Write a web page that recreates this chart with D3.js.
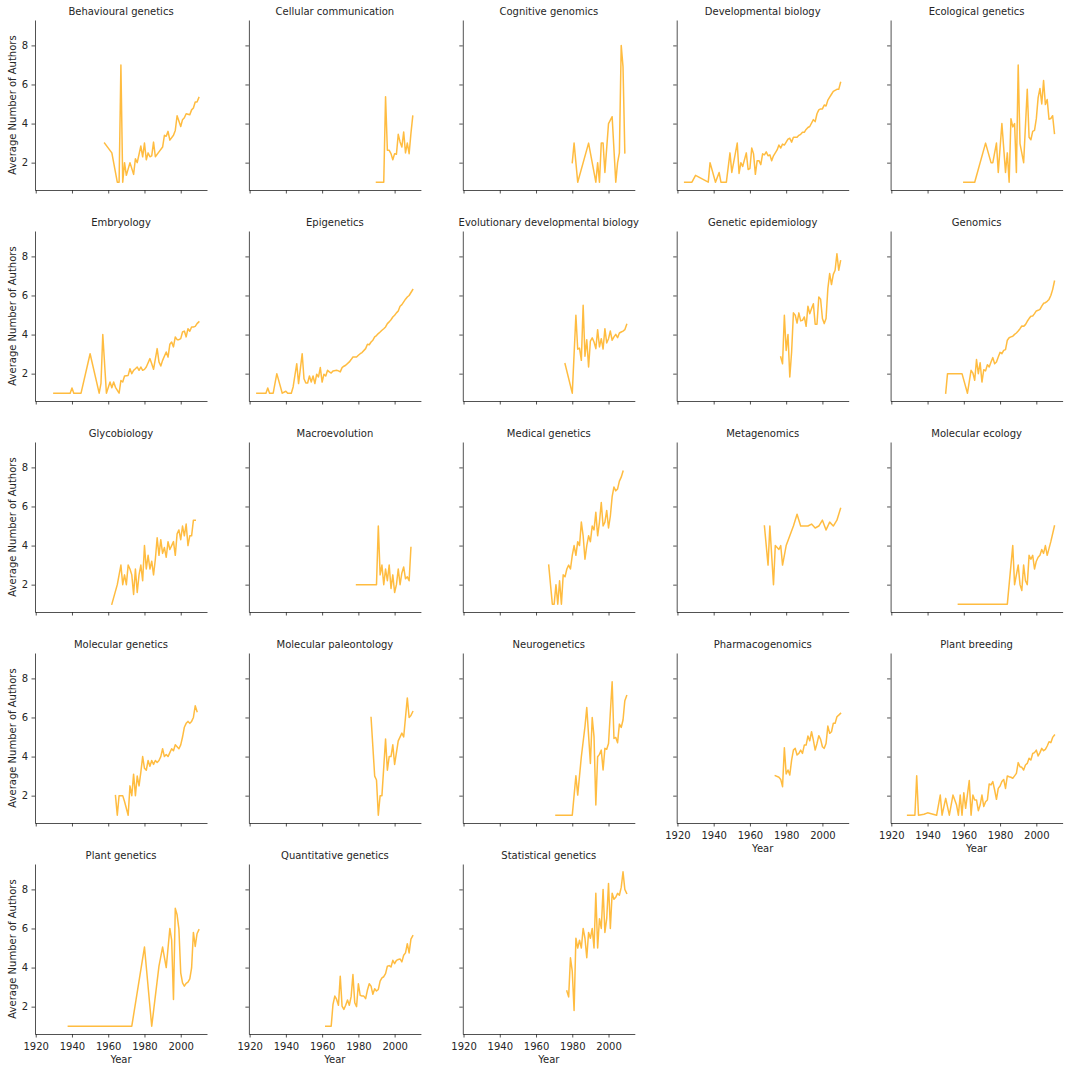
<!DOCTYPE html>
<html><head><meta charset="utf-8">
<script src="https://cdn.jsdelivr.net/npm/d3@7"></script>
<style>
body{margin:0;background:#fff}
svg{display:block}
text{font-family:"DejaVu Sans",sans-serif;fill:#262626}
</style>
</head><body>
<svg id="chart" width="1072" height="1072"></svg>
<script>
// ---- DATA ----
const fieldNames = ["Behavioural genetics","Cellular communication","Cognitive genomics","Developmental biology","Ecological genetics",
 "Embryology","Epigenetics","Evolutionary developmental biology","Genetic epidemiology","Genomics",
 "Glycobiology","Macroevolution","Medical genetics","Metagenomics","Molecular ecology",
 "Molecular genetics","Molecular paleontology","Neurogenetics","Pharmacogenomics","Plant breeding",
 "Plant genetics","Quantitative genetics","Statistical genetics"];

const behaviouralGenetics = [[1958,3.0],[1962,2.5],[1965,1.0],[1966,1.0],[1967,7.0],[1968,1.0],[1969,2.0],[1970,1.35],[1972,2.0],[1974,1.4],[1975,2.2],[1976,2.0],[1978,2.85],[1979,2.3],[1980,3.0],[1981,2.15],[1982,2.5],[1983,2.3],[1984,2.35],[1985,3.05],[1986,2.3],[1988,2.55],[1990,2.8],[1991,3.4],[1992,3.35],[1993,3.6],[1994,3.15],[1996,3.4],[1997,3.65],[1998,4.4],[2000,3.85],[2001,4.2],[2002,4.3],[2003,4.5],[2005,4.45],[2006,4.7],[2007,4.8],[2008,5.1],[2009,5.1],[2010,5.33]];
const cellularCommunication = [[1990,1],[1991,1],[1992,1],[1993,1],[1994,1],[1995,5.37],[1996,2.63],[1997,2.63],[1998,2.46],[1999,2.15],[2000,2.46],[2001,2.43],[2002,3.45],[2003,3.06],[2004,2.8],[2005,3.57],[2006,2.5],[2007,3.0],[2008,2.46],[2009,3.5],[2010,4.38]];
const cognitiveGenomics = [[1980,2],[1981,3],[1983,1],[1989,3],[1993,1],[1994,2],[1995,1],[1996,3],[1997,3],[1998,1.5],[2000,4],[2002,4.35],[2004,1],[2005,2],[2006,2.5],[2007,8],[2008,6.9],[2009,2.5]];
const developmentalBiology = [[1924,1.0],[1928,1.0],[1930,1.35],[1937,1.0],[1938,2.0],[1941,1.0],[1943,1.5],[1944,1.0],[1947,1.0],[1949,2.5],[1950,1.5],[1953,3.0],[1954,1.45],[1955,2.0],[1956,1.8],[1958,2.5],[1959,1.65],[1960,1.7],[1961,2.75],[1962,2.45],[1963,1.4],[1964,2.1],[1965,2.1],[1966,1.9],[1967,2.45],[1968,2.4],[1969,2.55],[1970,2.35],[1971,2.4],[1972,2.1],[1973,2.35],[1975,2.65],[1976,2.9],[1977,2.75],[1978,2.95],[1979,2.9],[1980,3.05],[1981,3.2],[1982,3.25],[1983,3.05],[1984,3.3],[1986,3.3],[1987,3.4],[1988,3.45],[1989,3.55],[1990,3.55],[1991,3.7],[1992,3.8],[1993,3.85],[1995,4.2],[1996,4.1],[1997,4.5],[1998,4.7],[1999,4.75],[2000,4.75],[2001,4.95],[2002,4.9],[2003,5.2],[2004,5.35],[2005,5.5],[2006,5.65],[2007,5.7],[2008,5.75],[2009,5.75],[2010,6.1]];
const ecologicalGenetics = [[1960,1.0],[1966,1.0],[1972,3.0],[1975,2.0],[1976,2.0],[1978,3.0],[1979,1.5],[1981,4.0],[1983,1.5],[1984,2.5],[1985,1.0],[1986,4.25],[1987,3.83],[1988,4.0],[1989,1.5],[1990,7.0],[1991,2.97],[1993,2.0],[1995,5.75],[1996,3.3],[1997,3.17],[1998,3.6],[1999,3.65],[2000,4.25],[2001,5.33],[2002,5.8],[2003,5.0],[2004,6.2],[2005,4.97],[2006,5.23],[2007,4.22],[2008,4.26],[2009,4.4],[2010,3.5]];
const embryology = [[1930,1.0],[1939,1.0],[1940,1.27],[1941,1.0],[1945,1.0],[1950,3.02],[1955,1.0],[1956,1.5],[1957,4.0],[1959,1.0],[1961,1.57],[1962,1.28],[1963,1.57],[1964,1.3],[1966,1.0],[1967,1.65],[1968,1.57],[1969,1.88],[1971,1.91],[1972,2.25],[1973,2.0],[1974,2.17],[1975,2.25],[1976,2.34],[1977,2.17],[1978,2.34],[1979,2.17],[1980,2.22],[1981,2.34],[1983,2.77],[1984,2.51],[1985,2.22],[1987,3.28],[1988,2.6],[1989,2.39],[1990,2.68],[1992,3.11],[1993,2.85],[1994,3.5],[1995,3.62],[1996,3.37],[1997,3.88],[1998,3.74],[1999,3.74],[2000,3.79],[2001,4.13],[2002,4.18],[2003,3.88],[2004,4.3],[2005,4.17],[2006,4.39],[2007,4.39],[2008,4.42],[2009,4.56],[2010,4.65]];
const epigenetics = [[1924,1.0],[1929,1.0],[1930,1.27],[1931,1.0],[1933,1.0],[1935,2.0],[1938,1.0],[1940,1.1],[1941,1.0],[1943,1.0],[1944,1.32],[1946,2.51],[1947,1.49],[1949,3.02],[1950,1.74],[1951,1.52],[1952,1.52],[1953,1.88],[1954,1.57],[1955,1.88],[1956,1.49],[1957,1.97],[1958,1.83],[1959,2.31],[1960,1.57],[1961,1.97],[1962,1.88],[1963,2.17],[1964,2.09],[1965,2.03],[1966,2.14],[1968,2.17],[1969,2.14],[1970,2.09],[1971,2.31],[1972,2.38],[1973,2.43],[1975,2.6],[1976,2.72],[1977,2.85],[1978,2.85],[1979,2.85],[1980,2.94],[1981,3.02],[1982,3.08],[1984,3.28],[1985,3.5],[1986,3.48],[1987,3.62],[1988,3.71],[1989,3.88],[1990,3.95],[1991,4.05],[1992,4.13],[1993,4.22],[1994,4.3],[1995,4.39],[1996,4.56],[1997,4.65],[1998,4.76],[1999,4.9],[2000,4.99],[2001,5.11],[2002,5.21],[2003,5.45],[2004,5.53],[2005,5.67],[2006,5.81],[2007,5.92],[2008,6.0],[2010,6.3]];
const evoDevo = [[1976,2.51],[1980,1.0],[1982,4.99],[1983,3.25],[1984,3.31],[1985,2.68],[1986,5.5],[1987,2.89],[1988,3.74],[1989,2.34],[1990,3.67],[1991,3.83],[1992,3.62],[1993,3.28],[1994,4.25],[1995,3.37],[1996,3.79],[1997,3.26],[1998,4.3],[1999,3.57],[2000,3.79],[2001,4.18],[2002,3.71],[2003,3.88],[2004,4.01],[2005,3.84],[2006,4.08],[2007,4.13],[2008,4.18],[2009,4.25],[2010,4.52]];
const geneticEpidemiology = [[1977,2.85],[1978,2.51],[1979,4.99],[1980,3.19],[1981,4.0],[1982,1.83],[1983,3.11],[1984,5.11],[1985,4.99],[1986,4.59],[1987,5.11],[1988,4.7],[1989,4.73],[1990,4.9],[1991,4.42],[1992,5.45],[1993,5.07],[1994,5.33],[1995,5.58],[1996,4.53],[1997,4.53],[1998,5.92],[1999,5.81],[2000,4.82],[2001,4.56],[2002,4.82],[2003,6.35],[2004,7.12],[2005,6.56],[2006,7.08],[2007,7.29],[2008,8.14],[2009,7.29],[2010,7.77]];
const genomics = [[1950,1.0],[1951,2.0],[1959,2.0],[1962,1.0],[1964,2.17],[1965,2.03],[1966,1.66],[1967,2.72],[1968,2.0],[1969,2.56],[1970,1.57],[1971,2.2],[1972,2.14],[1973,2.46],[1974,2.34],[1975,2.6],[1976,2.82],[1977,2.51],[1978,2.6],[1979,2.85],[1980,3.09],[1981,3.02],[1982,3.19],[1983,3.23],[1984,3.71],[1985,3.84],[1986,3.88],[1987,3.91],[1988,4.01],[1989,4.08],[1990,4.18],[1991,4.3],[1992,4.44],[1993,4.42],[1994,4.51],[1995,4.68],[1996,4.82],[1997,4.94],[1998,4.95],[1999,5.07],[2000,5.21],[2001,5.24],[2002,5.29],[2003,5.45],[2004,5.6],[2005,5.63],[2006,5.7],[2007,5.8],[2008,6.0],[2009,6.3],[2010,6.73]];
const glycobiology = [[1962,1.0],[1965,2.0],[1967,3.0],[1968,2.0],[1969,2.5],[1970,2.0],[1971,3.0],[1972,2.8],[1973,2.5],[1974,1.5],[1975,2.8],[1976,1.6],[1977,2.5],[1978,3.0],[1979,2.2],[1980,4.0],[1981,2.8],[1982,3.5],[1983,2.8],[1984,3.2],[1985,2.5],[1986,3.3],[1987,4.4],[1988,3.5],[1989,4.3],[1990,3.6],[1991,3.9],[1992,3.4],[1993,4.2],[1994,3.8],[1995,4.0],[1996,4.2],[1997,3.5],[1998,4.6],[1999,4.8],[2000,4.3],[2001,5.0],[2002,4.5],[2003,5.1],[2004,4.0],[2005,4.5],[2006,4.5],[2007,5.3],[2008,5.3]];
const macroevolution = [[1979,2.0],[1990,2.0],[1991,5.0],[1992,2.5],[1993,3.0],[1994,2.0],[1995,2.8],[1996,2.2],[1997,3.0],[1998,1.8],[1999,2.5],[2000,1.6],[2001,2.0],[2002,2.8],[2003,2.0],[2004,2.6],[2005,2.9],[2006,2.3],[2007,2.4],[2008,2.2],[2009,3.9]];
const medicalGenetics = [[1967,3.0],[1969,1.0],[1970,1.0],[1971,2.0],[1972,1.0],[1973,2.2],[1974,1.0],[1975,2.5],[1976,2.4],[1977,2.8],[1978,3.0],[1979,2.8],[1980,3.5],[1981,4.0],[1982,3.5],[1983,4.2],[1984,4.0],[1985,5.2],[1986,4.5],[1987,3.3],[1988,4.0],[1989,4.5],[1990,4.2],[1991,5.0],[1992,4.8],[1993,5.7],[1994,4.5],[1995,5.2],[1996,6.2],[1997,5.0],[1998,5.2],[1999,5.8],[2000,4.9],[2001,5.5],[2002,6.5],[2003,7.0],[2004,6.8],[2005,6.9],[2006,7.3],[2007,7.5],[2008,7.8]];
const metagenomics = [[1968,5.0],[1970,3.0],[1971,5.0],[1973,2.0],[1974,4.0],[1976,3.8],[1977,4.0],[1978,3.0],[1980,4.0],[1982,4.5],[1984,5.0],[1986,5.6],[1988,5.0],[1990,5.0],[1992,5.0],[1994,5.1],[1996,4.9],[1998,5.0],[2000,5.3],[2002,4.8],[2004,5.2],[2006,5.0],[2008,5.3],[2010,5.9]];
const molecularEcology = [[1957,1.0],[1984,1.0],[1987,4.0],[1988,2.0],[1989,2.5],[1990,3.0],[1991,2.0],[1992,1.7],[1993,3.0],[1994,2.2],[1995,2.0],[1996,3.5],[1997,3.3],[1998,3.5],[1999,2.8],[2000,3.2],[2001,3.4],[2002,3.5],[2003,3.8],[2004,3.6],[2005,4.0],[2006,3.5],[2008,4.2],[2010,5.0]];
const molecularGenetics = [[1964,2.0],[1965,1.0],[1966,2.0],[1968,2.0],[1969,1.7],[1971,1.0],[1972,2.5],[1973,2.0],[1974,3.1],[1975,2.0],[1976,3.0],[1977,2.5],[1978,3.2],[1979,4.0],[1980,3.4],[1981,3.3],[1982,3.8],[1983,3.5],[1984,3.8],[1985,3.6],[1986,3.8],[1987,3.7],[1988,3.8],[1989,4.0],[1990,4.4],[1991,4.0],[1992,4.1],[1993,4.0],[1994,4.2],[1995,4.4],[1996,4.3],[1997,4.6],[1998,4.5],[1999,4.4],[2000,4.6],[2001,5.0],[2002,5.5],[2003,5.7],[2004,5.8],[2005,5.7],[2006,5.8],[2007,6.0],[2008,6.6],[2009,6.3]];
const molecularPaleontology = [[1987,6.0],[1989,3.0],[1990,2.8],[1991,1.0],[1992,2.0],[1993,2.0],[1995,4.9],[1996,3.3],[1997,4.0],[1998,4.0],[1999,4.6],[2000,3.6],[2002,4.8],[2004,5.2],[2005,5.0],[2007,7.0],[2008,6.0],[2009,6.1],[2010,6.3]];
const neurogenetics = [[1971,1.0],[1980,1.0],[1982,3.02],[1983,2.03],[1985,3.99],[1987,5.53],[1988,6.51],[1990,3.65],[1991,6.0],[1992,5.02],[1993,1.52],[1994,3.99],[1995,4.11],[1996,4.33],[1997,3.31],[1998,4.42],[1999,4.37],[2000,4.67],[2002,7.83],[2003,4.93],[2004,4.98],[2005,4.71],[2006,5.66],[2007,5.49],[2008,5.87],[2009,6.86],[2010,7.11]];
const pharmacogenomics = [[1974,3.02],[1976,2.94],[1977,2.83],[1978,2.46],[1979,4.45],[1980,3.11],[1981,3.31],[1982,3.06],[1983,3.82],[1984,4.33],[1985,4.42],[1986,4.08],[1987,4.16],[1988,4.33],[1989,4.16],[1990,4.59],[1991,4.59],[1992,5.05],[1993,4.81],[1994,5.27],[1995,4.84],[1996,4.33],[1997,4.67],[1998,5.07],[1999,4.88],[2000,4.5],[2001,4.42],[2002,4.67],[2003,5.56],[2004,5.19],[2005,5.27],[2006,5.7],[2007,5.7],[2008,6.04],[2009,6.12],[2010,6.21]];
const plantBreeding = [[1929,1.0],[1933,1.0],[1934,3.02],[1935,1.0],[1938,1.05],[1940,1.12],[1943,1.05],[1945,1.0],[1947,2.03],[1948,1.0],[1950,1.86],[1952,1.0],[1954,2.03],[1956,1.52],[1957,1.0],[1958,2.03],[1959,1.0],[1960,2.15],[1961,1.35],[1963,2.77],[1964,1.0],[1965,2.03],[1966,1.78],[1967,1.78],[1968,1.23],[1969,1.52],[1970,2.03],[1971,1.44],[1972,1.69],[1973,1.78],[1974,2.6],[1975,2.55],[1976,2.72],[1977,2.29],[1978,1.81],[1979,2.37],[1980,2.49],[1981,2.72],[1982,2.83],[1983,2.37],[1984,3.01],[1985,2.97],[1986,2.94],[1987,2.89],[1988,3.01],[1989,3.14],[1990,3.69],[1991,3.48],[1992,3.45],[1993,3.31],[1994,3.57],[1995,3.65],[1996,3.91],[1997,3.82],[1998,4.16],[1999,4.2],[2000,4.33],[2001,4.03],[2002,4.2],[2003,4.42],[2004,4.3],[2005,4.37],[2006,4.54],[2007,4.76],[2008,4.71],[2009,4.98],[2010,5.1]];
const plantGenetics = [[1938,1.0],[1973,1.0],[1980,5.05],[1984,1.0],[1988,4.07],[1990,5.05],[1992,4.0],[1994,6.0],[1995,5.4],[1996,2.37],[1997,7.03],[1998,6.7],[1999,5.97],[2000,3.73],[2001,3.22],[2002,3.05],[2003,3.19],[2004,3.25],[2005,3.42],[2006,3.98],[2007,5.8],[2008,5.08],[2009,5.73],[2010,5.93]];
const quantitativeGenetics = [[1962,1.0],[1965,1.0],[1966,2.12],[1967,2.54],[1968,2.37],[1969,2.07],[1970,3.56],[1971,2.03],[1972,1.86],[1973,2.07],[1974,2.34],[1975,2.07],[1976,2.51],[1977,3.64],[1978,2.2],[1979,2.0],[1980,3.17],[1981,2.58],[1982,2.54],[1983,2.54],[1984,2.41],[1985,2.85],[1986,3.17],[1987,3.05],[1988,2.63],[1989,2.92],[1990,2.8],[1991,2.88],[1992,3.31],[1993,3.47],[1994,3.53],[1995,3.69],[1996,4.07],[1997,4.1],[1998,4.03],[1999,4.37],[2000,4.2],[2001,4.37],[2002,4.41],[2003,4.44],[2004,4.29],[2005,4.63],[2006,4.75],[2007,5.22],[2008,4.75],[2009,5.46],[2010,5.63]];
const statisticalGenetics = [[1977,2.8],[1978,2.5],[1979,4.5],[1980,3.8],[1981,1.8],[1982,5.5],[1983,5.0],[1984,5.4],[1985,5.0],[1986,6.0],[1987,5.5],[1988,4.5],[1989,5.8],[1990,5.5],[1991,6.0],[1992,5.0],[1993,7.8],[1994,5.0],[1995,6.5],[1996,6.0],[1997,8.0],[1998,5.8],[1999,6.5],[2000,8.3],[2001,6.0],[2002,7.8],[2003,7.5],[2004,7.6],[2005,7.8],[2006,7.7],[2007,8.1],[2008,8.9],[2009,8.0],[2010,7.8]];

const seriesList = [behaviouralGenetics, cellularCommunication, cognitiveGenomics, developmentalBiology, ecologicalGenetics,
 embryology, epigenetics, evoDevo, geneticEpidemiology, genomics,
 glycobiology, macroevolution, medicalGenetics, metagenomics, molecularEcology,
 molecularGenetics, molecularPaleontology, neurogenetics, pharmacogenomics, plantBreeding,
 plantGenetics, quantitativeGenetics, statisticalGenetics];

const xTicks = [1920, 1940, 1960, 1980, 2000];
const yTicks = [2, 4, 6, 8];
const xDomain = [1919.6, 2014.5];
const yDomain = [0.6, 9.3];
const xLabelPanels = [18, 19, 20, 21, 22];
const xAxisTitle = "Year";
const yAxisTitle = "Average Number of Authors";

// ---- LAYOUT ----
const svg = d3.select("#chart");
const panelW = 172, panelH = 170;
const colStep = 213.9, rowStep = 211;
const left0 = 35, top0 = 20;

const x = d3.scaleLinear().domain(xDomain).range([0, panelW]);
const y = d3.scaleLinear().domain(yDomain).range([panelH, 0]);
const line = d3.line().x(d => x(d[0])).y(d => y(d[1]));
const axisColor = "#262626";

fieldNames.forEach((name, i) => {
  const row = Math.floor(i / 5), col = i % 5;
  const g = svg.append("g").attr("transform", `translate(${left0 + col * colStep},${top0 + row * rowStep})`);

  const showX = xLabelPanels.includes(i);
  const showY = col === 0;

  const ya = d3.axisLeft(y).tickValues(yTicks).tickSize(3.5).tickSizeOuter(0).tickPadding(3.5)
    .tickFormat(showY ? d3.format("d") : () => "");
  const yg = g.append("g").call(ya);
  const xa = d3.axisBottom(x).tickValues(xTicks).tickSize(3.5).tickSizeOuter(0).tickPadding(3.5)
    .tickFormat(showX ? d3.format("d") : () => "");
  const xg = g.append("g").attr("transform", `translate(0,${panelH})`).call(xa);

  [yg, xg].forEach(a => {
    a.select(".domain").attr("stroke", axisColor).attr("stroke-width", 0.8);
    a.selectAll(".tick line").attr("stroke", axisColor).attr("stroke-width", 0.8);
    a.selectAll(".tick text").attr("font-size", 10).attr("font-family", "DejaVu Sans").attr("fill", axisColor);
  });
  xg.selectAll(".tick text").attr("dy", "0.9em");

  g.append("path").datum(seriesList[i])
    .attr("fill", "none")
    .attr("stroke", "#ffa500")
    .attr("stroke-opacity", 0.75)
    .attr("stroke-width", 1.5)
    .attr("stroke-linejoin", "round")
    .attr("stroke-linecap", "square")
    .attr("d", line);

  g.append("text").attr("x", panelW / 2).attr("y", -5.5)
    .attr("text-anchor", "middle").attr("font-size", 10).text(name);

  if (showX) {
    g.append("text").attr("x", panelW / 2).attr("y", panelH + 29)
      .attr("text-anchor", "middle").attr("font-size", 10).text(xAxisTitle);
  }
  if (showY) {
    g.append("text").attr("transform", `translate(${-19.5},${panelH / 2}) rotate(-90)`)
      .attr("text-anchor", "middle").attr("font-size", 10).text(yAxisTitle);
  }
});
</script>
</body></html>
